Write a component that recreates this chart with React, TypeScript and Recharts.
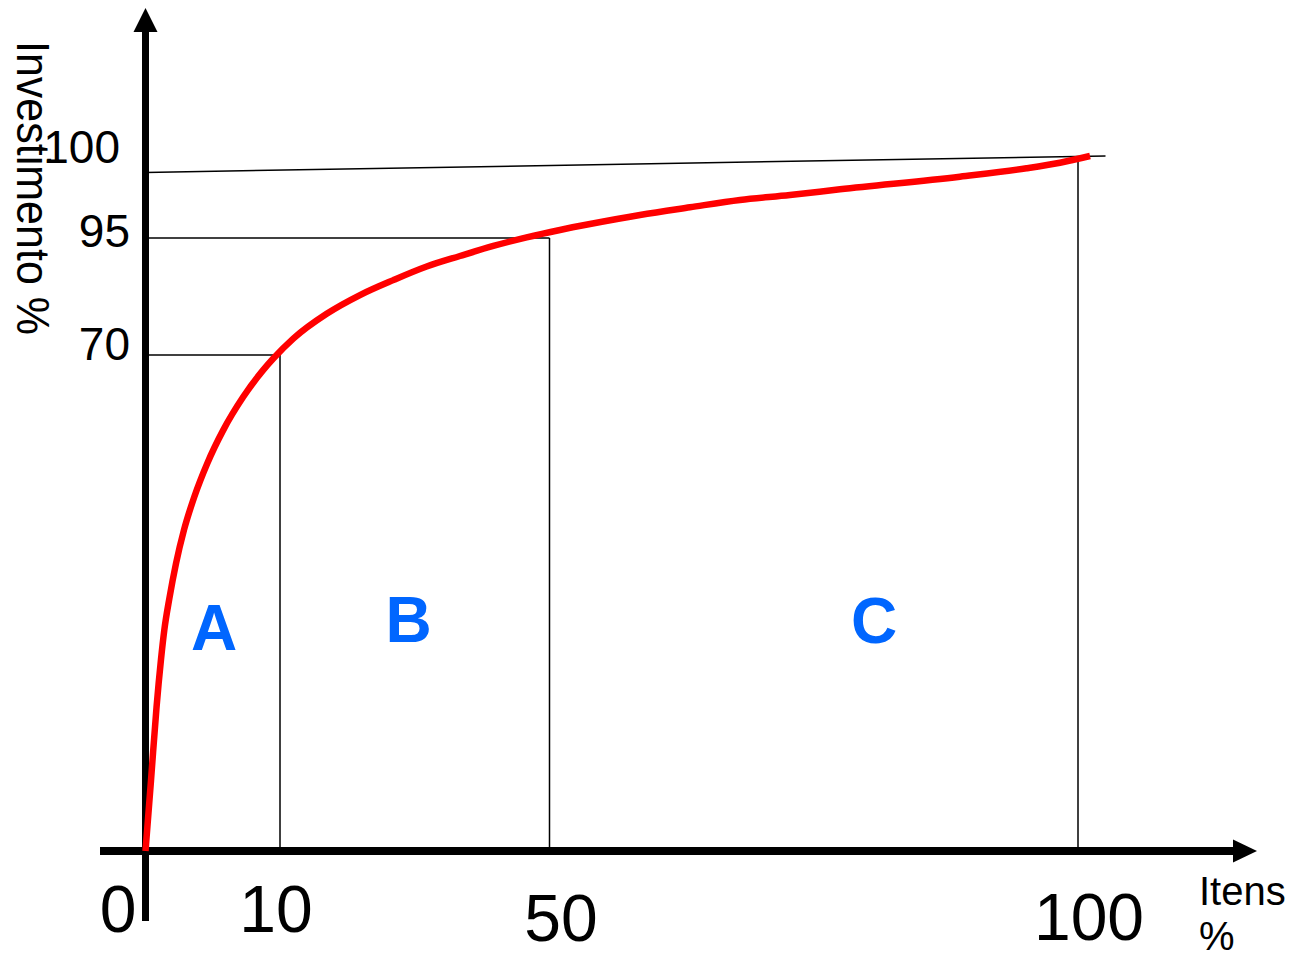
import React from "react";
import { LineChart, Line, XAxis, YAxis, ReferenceLine, ReferenceDot } from "recharts";

// ABC curve: % of items (x) vs cumulative % of investment (y)
const itemsPct = [
  0, 0.41, 0.82, 1.15, 1.4, 1.78, 2.27, 2.86, 3.63, 4.59, 5.78, 7.27, 8.76, 9.5, 11.97,
  16.93, 21.87, 26.82, 31.77, 36.71, 41.66, 46.61, 50.99, 53.83, 58.56, 63.29, 68.02, 72.75,
  77.48, 88.83, 95.13, 98.3, 101.14,
];
const investPct = [
  0, 10.0, 20.3, 27.0, 31.2, 35.7, 40.6, 45.3, 50.0, 54.7, 59.4, 64.1, 67.9, 69.5, 73.5,
  78.8, 82.8, 86.0, 88.9, 91.15, 93.3, 95.04, 95.49, 95.85, 96.4, 96.87, 97.32, 97.62,
  97.97, 98.74, 99.25, 99.59, 100,
];

const xTicks = [0, 10, 50, 100];
const xTickLabels = ["0", "10", "50", "100"];
const yTicks = [70, 95, 100];
const yTickLabels = ["70", "95", "100"];

// class cut-offs: A up to 10% of items / 70% invest, B up to 50% / 95%, C the rest
const cutItems = [10, 50, 100];
const cutInvest = [70, 95, 100];
// thin line drawn across the top near 100%
const topLineX = [0, 102.6];
const topLineY = [99.0, 100];

const classNames = ["A", "B", "C"];
const classAtItems = [5.1, 29.1, 80.7];
const classAtInvest = [31.6, 32.7, 32.6];

const curve = itemsPct.map((x, i) => ({ x, y: investPct[i] }));

// ---- layout ----
const W = 1294;
const H = 961;
const PLOT = { left: 100, right: 1257, top: 8, bottom: 921 };
const AXIS_THICK = 1;
const FONT = "'Liberation Sans', Arial, Helvetica, sans-serif";
const BLUE = "#0066ff";

// the drawing is schematic: each labelled value sits at its own spot on the axis
const X_PIX = [145.5, 280, 549.5, 1078];
const Y_PIX = [851, 355, 238, 156];

function piecewise(stops: number[], pix: number[]) {
  const n = stops.length;
  const fwd = (v: number) => {
    let i = 0;
    while (i < n - 2 && v > stops[i + 1]) i++;
    return pix[i] + ((v - stops[i]) / (stops[i + 1] - stops[i])) * (pix[i + 1] - pix[i]);
  };
  const inv = (p: number) => {
    const dir = Math.sign(pix[n - 1] - pix[0]);
    let i = 0;
    while (i < n - 2 && (p - pix[i + 1]) * dir > 0) i++;
    return stops[i] + ((p - pix[i]) / (pix[i + 1] - pix[i])) * (stops[i + 1] - stops[i]);
  };
  const build = (): any => {
    let dom = [stops[0], stops[n - 1]];
    let rng = [0, 1];
    const s: any = (v: number) => {
      const p0 = fwd(dom[0]);
      const p1 = fwd(dom[1]);
      return rng[0] + ((fwd(Number(v)) - p0) / (p1 - p0)) * (rng[1] - rng[0]);
    };
    s.domain = (d?: any) => {
      if (d === undefined) return dom.slice();
      dom = [Number(d[0]), Number(d[d.length - 1])];
      return s;
    };
    s.range = (r?: any) => {
      if (r === undefined) return rng.slice();
      rng = [Number(r[0]), Number(r[r.length - 1])];
      return s;
    };
    s.invert = (y: number) => {
      const p0 = fwd(dom[0]);
      const p1 = fwd(dom[1]);
      return inv(p0 + ((y - rng[0]) / (rng[1] - rng[0])) * (p1 - p0));
    };
    s.ticks = () => stops.filter((v) => v >= Math.min(...dom) && v <= Math.max(...dom));
    s.tickFormat = () => (v: number) => String(v);
    s.nice = () => s;
    s.copy = () => build().domain(dom).range(rng);
    return s;
  };
  return { scale: build(), inv };
}

const xScale = piecewise(xTicks, X_PIX);
const yScale = piecewise([0, ...yTicks], Y_PIX);
const xDomain = [xScale.inv(PLOT.left), xScale.inv(PLOT.right)];
const yDomain = [yScale.inv(PLOT.bottom), yScale.inv(PLOT.top)];

// label nudges, as hand placed in the drawing
const X_LABEL_DX = [-27.5, -4, 11.5, 11];
const X_LABEL_DY = [11, 11, 20, 19];
const Y_LABEL_RIGHT = [130, 130, 120];
const Y_LABEL_DY = [5, 9, 7];

const XTick = ({ x, payload }: any) => {
  const i = xTicks.indexOf(payload.value);
  if (i < 0) return null;
  return (
    <text x={x + X_LABEL_DX[i]} y={PLOT.bottom + X_LABEL_DY[i]} textAnchor="middle" fontSize={66} fontFamily={FONT} fill="#000">
      {xTickLabels[i]}
    </text>
  );
};

const YTick = ({ y, payload }: any) => {
  const i = yTicks.indexOf(payload.value);
  if (i < 0) return null;
  return (
    <text x={Y_LABEL_RIGHT[i]} y={y + Y_LABEL_DY[i]} textAnchor="end" fontSize={46} fontFamily={FONT} fill="#000">
      {yTickLabels[i]}
    </text>
  );
};

const YTitle = () => (
  <text
    transform="translate(17,41) rotate(90)"
    fontSize={46}
    fontFamily={FONT}
    fill="#000"
    textLength={294}
    lengthAdjust="spacingAndGlyphs"
  >
    Investimento %
  </text>
);

const XTitle = () => (
  <text fontSize={40} fontFamily={FONT} fill="#000">
    <tspan x={1199} y={905}>Itens</tspan>
    <tspan x={1199} y={950}>%</tspan>
  </text>
);

// axis line with an arrow head at its far end
const ArrowAxis = (props: any) => {
  const { x1, y1, x2, y2 } = props;
  if (Math.abs(x1 - x2) < 0.5) {
    const top = Math.min(y1, y2);
    const bottom = Math.max(y1, y2);
    return (
      <g>
        <line x1={x1} y1={bottom} x2={x1} y2={top + 20} stroke="#000" strokeWidth={7} />
        <polygon points={`${x1},${top} ${x1 - 12},${top + 24} ${x1 + 12},${top + 24}`} fill="#000" />
      </g>
    );
  }
  const left = Math.min(x1, x2);
  const right = Math.max(x1, x2);
  return (
    <g>
      <line x1={left} y1={y1} x2={right - 20} y2={y1} stroke="#000" strokeWidth={8} />
      <polygon points={`${right},${y1} ${right - 24},${y1 - 11.5} ${right - 24},${y1 + 11.5}`} fill="#000" />
    </g>
  );
};

const guide = { stroke: "#000", strokeWidth: 1.5, ifOverflow: "visible" as const };

export default function App() {
  return (
    <div style={{ position: "absolute", left: 0, top: 0, width: W, height: H, background: "#fff" }}>
      <LineChart
        width={W}
        height={H}
        margin={{
          left: PLOT.left - AXIS_THICK,
          right: W - PLOT.right,
          top: PLOT.top,
          bottom: H - PLOT.bottom - AXIS_THICK,
        }}
      >
        <XAxis
          type="number"
          dataKey="x"
          scale={xScale.scale}
          domain={xDomain}
          allowDataOverflow
          ticks={xTicks}
          interval={0}
          height={AXIS_THICK}
          tickSize={0}
          tickMargin={0}
          axisLine={false}
          tickLine={false}
          tick={<XTick />}
          label={<XTitle />}
        />
        <YAxis
          type="number"
          dataKey="y"
          scale={yScale.scale}
          domain={yDomain}
          allowDataOverflow
          ticks={yTicks}
          interval={0}
          width={AXIS_THICK}
          tickSize={0}
          tickMargin={0}
          axisLine={false}
          tickLine={false}
          tick={<YTick />}
          label={<YTitle />}
        />

        {cutItems.slice(0, 2).map((cx, i) => (
          <ReferenceLine key={`h${i}`} segment={[{ x: 0, y: cutInvest[i] }, { x: cx, y: cutInvest[i] }]} {...guide} />
        ))}
        {cutItems.map((cx, i) => (
          <ReferenceLine key={`v${i}`} segment={[{ x: cx, y: 0 }, { x: cx, y: cutInvest[i] }]} {...guide} />
        ))}
        <ReferenceLine
          segment={[{ x: topLineX[0], y: topLineY[0] }, { x: topLineX[1], y: topLineY[1] }]}
          {...guide}
        />

        <ReferenceLine x={0} shape={ArrowAxis} ifOverflow="visible" />
        <ReferenceLine y={0} shape={ArrowAxis} ifOverflow="visible" />

        {classNames.map((c, i) => (
          <ReferenceDot
            key={c}
            x={classAtItems[i]}
            y={classAtInvest[i]}
            r={0}
            fill="none"
            stroke="none"
            ifOverflow="visible"
            label={{
              value: c,
              position: "center",
              fill: BLUE,
              fontSize: 64,
              fontWeight: "bold",
              fontFamily: FONT,
            }}
          />
        ))}

        <Line
          data={curve}
          dataKey="y"
          type="monotone"
          stroke="#ff0000"
          strokeWidth={6.5}
          dot={false}
          activeDot={false}
          isAnimationActive={false}
        />
      </LineChart>
    </div>
  );
}
